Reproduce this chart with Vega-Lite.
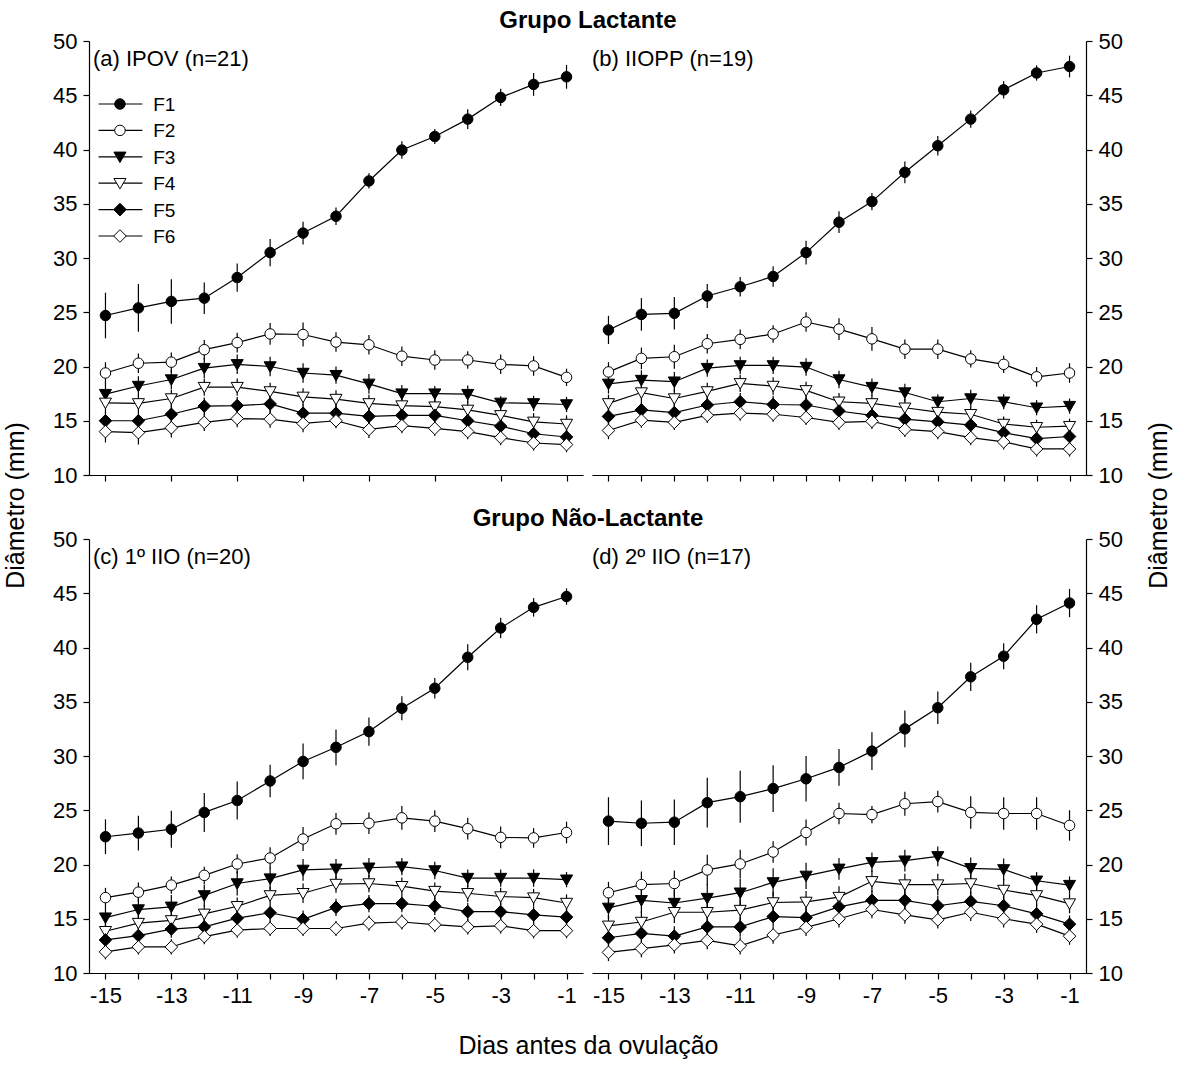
{
"$schema": "https://vega.github.io/schema/vega-lite/v6.json",
"padding": {"left": 3, "top": 9, "right": 5, "bottom": 5},
"background": "white",
"data": {"values": [
{"p":"a","s":"F1","d":-15,"m":24.7,"e":2.1},{"p":"a","s":"F1","d":-14,"m":25.4,"e":2.2},{"p":"a","s":"F1","d":-13,"m":26.0,"e":2.05},{"p":"a","s":"F1","d":-12,"m":26.3,"e":1.45},{"p":"a","s":"F1","d":-11,"m":28.2,"e":1.3},{"p":"a","s":"F1","d":-10,"m":30.5,"e":1.25},{"p":"a","s":"F1","d":-9,"m":32.3,"e":1.05},{"p":"a","s":"F1","d":-8,"m":33.85,"e":0.8},{"p":"a","s":"F1","d":-7,"m":37.1,"e":0.7},{"p":"a","s":"F1","d":-6,"m":39.95,"e":0.8},{"p":"a","s":"F1","d":-5,"m":41.2,"e":0.7},{"p":"a","s":"F1","d":-4,"m":42.8,"e":0.9},{"p":"a","s":"F1","d":-3,"m":44.8,"e":0.8},{"p":"a","s":"F1","d":-2,"m":46.0,"e":1.05},{"p":"a","s":"F1","d":-1,"m":46.7,"e":1.1},
{"p":"a","s":"F2","d":-15,"m":19.4,"e":1.0},{"p":"a","s":"F2","d":-14,"m":20.3,"e":0.9},{"p":"a","s":"F2","d":-13,"m":20.4,"e":0.9},{"p":"a","s":"F2","d":-12,"m":21.55,"e":0.9},{"p":"a","s":"F2","d":-11,"m":22.2,"e":0.9},{"p":"a","s":"F2","d":-10,"m":23.0,"e":1.0},{"p":"a","s":"F2","d":-9,"m":22.95,"e":1.1},{"p":"a","s":"F2","d":-8,"m":22.25,"e":0.9},{"p":"a","s":"F2","d":-7,"m":22.0,"e":0.9},{"p":"a","s":"F2","d":-6,"m":20.95,"e":0.9},{"p":"a","s":"F2","d":-5,"m":20.6,"e":0.9},{"p":"a","s":"F2","d":-4,"m":20.6,"e":0.8},{"p":"a","s":"F2","d":-3,"m":20.2,"e":0.9},{"p":"a","s":"F2","d":-2,"m":20.05,"e":0.9},{"p":"a","s":"F2","d":-1,"m":19.0,"e":0.8},
{"p":"a","s":"F3","d":-15,"m":17.45,"e":1.0},{"p":"a","s":"F3","d":-14,"m":18.2,"e":0.9},{"p":"a","s":"F3","d":-13,"m":18.8,"e":0.9},{"p":"a","s":"F3","d":-12,"m":19.85,"e":0.9},{"p":"a","s":"F3","d":-11,"m":20.2,"e":0.9},{"p":"a","s":"F3","d":-10,"m":20.0,"e":0.9},{"p":"a","s":"F3","d":-9,"m":19.4,"e":0.9},{"p":"a","s":"F3","d":-8,"m":19.2,"e":0.8},{"p":"a","s":"F3","d":-7,"m":18.4,"e":0.9},{"p":"a","s":"F3","d":-6,"m":17.5,"e":0.8},{"p":"a","s":"F3","d":-5,"m":17.5,"e":0.7},{"p":"a","s":"F3","d":-4,"m":17.45,"e":0.8},{"p":"a","s":"F3","d":-3,"m":16.65,"e":0.6},{"p":"a","s":"F3","d":-2,"m":16.6,"e":0.7},{"p":"a","s":"F3","d":-1,"m":16.5,"e":0.7},
{"p":"a","s":"F4","d":-15,"m":16.65,"e":0.9},{"p":"a","s":"F4","d":-14,"m":16.6,"e":0.8},{"p":"a","s":"F4","d":-13,"m":17.05,"e":0.8},{"p":"a","s":"F4","d":-12,"m":18.1,"e":0.8},{"p":"a","s":"F4","d":-11,"m":18.1,"e":0.8},{"p":"a","s":"F4","d":-10,"m":17.7,"e":0.8},{"p":"a","s":"F4","d":-9,"m":17.2,"e":0.8},{"p":"a","s":"F4","d":-8,"m":17.0,"e":0.8},{"p":"a","s":"F4","d":-7,"m":16.6,"e":0.8},{"p":"a","s":"F4","d":-6,"m":16.4,"e":0.8},{"p":"a","s":"F4","d":-5,"m":16.3,"e":0.8},{"p":"a","s":"F4","d":-4,"m":16.0,"e":0.8},{"p":"a","s":"F4","d":-3,"m":15.5,"e":0.8},{"p":"a","s":"F4","d":-2,"m":14.9,"e":0.8},{"p":"a","s":"F4","d":-1,"m":14.7,"e":0.8},
{"p":"a","s":"F5","d":-15,"m":15.0,"e":0.8},{"p":"a","s":"F5","d":-14,"m":15.0,"e":0.8},{"p":"a","s":"F5","d":-13,"m":15.6,"e":0.8},{"p":"a","s":"F5","d":-12,"m":16.35,"e":0.8},{"p":"a","s":"F5","d":-11,"m":16.4,"e":0.8},{"p":"a","s":"F5","d":-10,"m":16.55,"e":0.8},{"p":"a","s":"F5","d":-9,"m":15.7,"e":0.8},{"p":"a","s":"F5","d":-8,"m":15.7,"e":0.8},{"p":"a","s":"F5","d":-7,"m":15.4,"e":0.8},{"p":"a","s":"F5","d":-6,"m":15.5,"e":0.8},{"p":"a","s":"F5","d":-5,"m":15.5,"e":0.8},{"p":"a","s":"F5","d":-4,"m":15.0,"e":0.8},{"p":"a","s":"F5","d":-3,"m":14.5,"e":0.8},{"p":"a","s":"F5","d":-2,"m":13.8,"e":0.8},{"p":"a","s":"F5","d":-1,"m":13.5,"e":0.8},
{"p":"a","s":"F6","d":-15,"m":14.0,"e":1.0},{"p":"a","s":"F6","d":-14,"m":13.9,"e":1.1},{"p":"a","s":"F6","d":-13,"m":14.35,"e":0.9},{"p":"a","s":"F6","d":-12,"m":14.85,"e":0.8},{"p":"a","s":"F6","d":-11,"m":15.2,"e":0.8},{"p":"a","s":"F6","d":-10,"m":15.15,"e":0.8},{"p":"a","s":"F6","d":-9,"m":14.75,"e":0.8},{"p":"a","s":"F6","d":-8,"m":15.0,"e":0.7},{"p":"a","s":"F6","d":-7,"m":14.2,"e":0.8},{"p":"a","s":"F6","d":-6,"m":14.55,"e":0.7},{"p":"a","s":"F6","d":-5,"m":14.3,"e":0.7},{"p":"a","s":"F6","d":-4,"m":14.0,"e":0.7},{"p":"a","s":"F6","d":-3,"m":13.45,"e":0.7},{"p":"a","s":"F6","d":-2,"m":12.95,"e":0.7},{"p":"a","s":"F6","d":-1,"m":12.8,"e":0.7},

{"p":"b","s":"F1","d":-15,"m":23.37,"e":1.3},{"p":"b","s":"F1","d":-14,"m":24.8,"e":1.5},{"p":"b","s":"F1","d":-13,"m":24.9,"e":1.5},{"p":"b","s":"F1","d":-12,"m":26.5,"e":1.1},{"p":"b","s":"F1","d":-11,"m":27.35,"e":0.9},{"p":"b","s":"F1","d":-10,"m":28.3,"e":0.95},{"p":"b","s":"F1","d":-9,"m":30.5,"e":1.1},{"p":"b","s":"F1","d":-8,"m":33.3,"e":1.0},{"p":"b","s":"F1","d":-7,"m":35.2,"e":0.8},{"p":"b","s":"F1","d":-6,"m":37.9,"e":1.0},{"p":"b","s":"F1","d":-5,"m":40.35,"e":0.9},{"p":"b","s":"F1","d":-4,"m":42.8,"e":0.8},{"p":"b","s":"F1","d":-3,"m":45.5,"e":0.8},{"p":"b","s":"F1","d":-2,"m":47.05,"e":0.7},{"p":"b","s":"F1","d":-1,"m":47.65,"e":1.0},
{"p":"b","s":"F2","d":-15,"m":19.5,"e":0.9},{"p":"b","s":"F2","d":-14,"m":20.75,"e":1.0},{"p":"b","s":"F2","d":-13,"m":20.9,"e":1.1},{"p":"b","s":"F2","d":-12,"m":22.1,"e":0.9},{"p":"b","s":"F2","d":-11,"m":22.5,"e":0.9},{"p":"b","s":"F2","d":-10,"m":23.0,"e":0.8},{"p":"b","s":"F2","d":-9,"m":24.1,"e":0.9},{"p":"b","s":"F2","d":-8,"m":23.45,"e":1.0},{"p":"b","s":"F2","d":-7,"m":22.55,"e":1.1},{"p":"b","s":"F2","d":-6,"m":21.6,"e":0.9},{"p":"b","s":"F2","d":-5,"m":21.6,"e":0.9},{"p":"b","s":"F2","d":-4,"m":20.7,"e":0.8},{"p":"b","s":"F2","d":-3,"m":20.2,"e":0.8},{"p":"b","s":"F2","d":-2,"m":19.05,"e":0.9},{"p":"b","s":"F2","d":-1,"m":19.4,"e":0.9},
{"p":"b","s":"F3","d":-15,"m":18.4,"e":0.9},{"p":"b","s":"F3","d":-14,"m":18.75,"e":0.9},{"p":"b","s":"F3","d":-13,"m":18.6,"e":0.9},{"p":"b","s":"F3","d":-12,"m":19.85,"e":0.8},{"p":"b","s":"F3","d":-11,"m":20.1,"e":0.8},{"p":"b","s":"F3","d":-10,"m":20.1,"e":0.8},{"p":"b","s":"F3","d":-9,"m":19.95,"e":0.8},{"p":"b","s":"F3","d":-8,"m":18.8,"e":0.8},{"p":"b","s":"F3","d":-7,"m":18.1,"e":0.8},{"p":"b","s":"F3","d":-6,"m":17.6,"e":0.8},{"p":"b","s":"F3","d":-5,"m":16.75,"e":0.7},{"p":"b","s":"F3","d":-4,"m":17.05,"e":0.8},{"p":"b","s":"F3","d":-3,"m":16.75,"e":0.7},{"p":"b","s":"F3","d":-2,"m":16.2,"e":0.7},{"p":"b","s":"F3","d":-1,"m":16.35,"e":0.7},
{"p":"b","s":"F4","d":-15,"m":16.6,"e":0.8},{"p":"b","s":"F4","d":-14,"m":17.6,"e":0.8},{"p":"b","s":"F4","d":-13,"m":17.05,"e":0.8},{"p":"b","s":"F4","d":-12,"m":17.7,"e":0.8},{"p":"b","s":"F4","d":-11,"m":18.45,"e":0.8},{"p":"b","s":"F4","d":-10,"m":18.2,"e":0.8},{"p":"b","s":"F4","d":-9,"m":17.8,"e":0.8},{"p":"b","s":"F4","d":-8,"m":16.75,"e":0.8},{"p":"b","s":"F4","d":-7,"m":16.6,"e":0.8},{"p":"b","s":"F4","d":-6,"m":16.2,"e":0.8},{"p":"b","s":"F4","d":-5,"m":15.8,"e":0.7},{"p":"b","s":"F4","d":-4,"m":15.6,"e":0.7},{"p":"b","s":"F4","d":-3,"m":14.7,"e":0.7},{"p":"b","s":"F4","d":-2,"m":14.4,"e":0.7},{"p":"b","s":"F4","d":-1,"m":14.5,"e":0.7},
{"p":"b","s":"F5","d":-15,"m":15.4,"e":0.8},{"p":"b","s":"F5","d":-14,"m":16.0,"e":0.8},{"p":"b","s":"F5","d":-13,"m":15.75,"e":0.8},{"p":"b","s":"F5","d":-12,"m":16.45,"e":0.8},{"p":"b","s":"F5","d":-11,"m":16.75,"e":0.8},{"p":"b","s":"F5","d":-10,"m":16.5,"e":0.8},{"p":"b","s":"F5","d":-9,"m":16.45,"e":0.8},{"p":"b","s":"F5","d":-8,"m":15.9,"e":0.7},{"p":"b","s":"F5","d":-7,"m":15.5,"e":0.7},{"p":"b","s":"F5","d":-6,"m":15.15,"e":0.7},{"p":"b","s":"F5","d":-5,"m":14.9,"e":0.7},{"p":"b","s":"F5","d":-4,"m":14.6,"e":0.7},{"p":"b","s":"F5","d":-3,"m":13.9,"e":0.7},{"p":"b","s":"F5","d":-2,"m":13.35,"e":0.7},{"p":"b","s":"F5","d":-1,"m":13.55,"e":0.7},
{"p":"b","s":"F6","d":-15,"m":14.1,"e":0.8},{"p":"b","s":"F6","d":-14,"m":15.05,"e":0.7},{"p":"b","s":"F6","d":-13,"m":14.85,"e":0.7},{"p":"b","s":"F6","d":-12,"m":15.5,"e":0.7},{"p":"b","s":"F6","d":-11,"m":15.7,"e":0.7},{"p":"b","s":"F6","d":-10,"m":15.6,"e":0.7},{"p":"b","s":"F6","d":-9,"m":15.3,"e":0.7},{"p":"b","s":"F6","d":-8,"m":14.85,"e":0.7},{"p":"b","s":"F6","d":-7,"m":14.95,"e":0.7},{"p":"b","s":"F6","d":-6,"m":14.2,"e":0.7},{"p":"b","s":"F6","d":-5,"m":14.0,"e":0.7},{"p":"b","s":"F6","d":-4,"m":13.45,"e":0.7},{"p":"b","s":"F6","d":-3,"m":13.05,"e":0.7},{"p":"b","s":"F6","d":-2,"m":12.4,"e":0.7},{"p":"b","s":"F6","d":-1,"m":12.4,"e":0.7},

{"p":"c","s":"F1","d":-15,"m":22.56,"e":1.6},{"p":"c","s":"F1","d":-14,"m":22.9,"e":1.6},{"p":"c","s":"F1","d":-13,"m":23.25,"e":1.7},{"p":"c","s":"F1","d":-12,"m":24.8,"e":1.8},{"p":"c","s":"F1","d":-11,"m":25.9,"e":1.75},{"p":"c","s":"F1","d":-10,"m":27.7,"e":1.5},{"p":"c","s":"F1","d":-9,"m":29.5,"e":1.65},{"p":"c","s":"F1","d":-8,"m":30.8,"e":1.65},{"p":"c","s":"F1","d":-7,"m":32.25,"e":1.3},{"p":"c","s":"F1","d":-6,"m":34.4,"e":1.1},{"p":"c","s":"F1","d":-5,"m":36.25,"e":0.95},{"p":"c","s":"F1","d":-4,"m":39.1,"e":1.2},{"p":"c","s":"F1","d":-3,"m":41.8,"e":0.95},{"p":"c","s":"F1","d":-2,"m":43.7,"e":0.85},{"p":"c","s":"F1","d":-1,"m":44.7,"e":0.75},
{"p":"c","s":"F2","d":-15,"m":16.95,"e":0.9},{"p":"c","s":"F2","d":-14,"m":17.45,"e":0.9},{"p":"c","s":"F2","d":-13,"m":18.1,"e":0.8},{"p":"c","s":"F2","d":-12,"m":19.0,"e":0.8},{"p":"c","s":"F2","d":-11,"m":20.05,"e":0.9},{"p":"c","s":"F2","d":-10,"m":20.6,"e":1.0},{"p":"c","s":"F2","d":-9,"m":22.35,"e":1.1},{"p":"c","s":"F2","d":-8,"m":23.75,"e":1.0},{"p":"c","s":"F2","d":-7,"m":23.8,"e":1.0},{"p":"c","s":"F2","d":-6,"m":24.3,"e":1.1},{"p":"c","s":"F2","d":-5,"m":24.0,"e":1.0},{"p":"c","s":"F2","d":-4,"m":23.3,"e":1.0},{"p":"c","s":"F2","d":-3,"m":22.5,"e":1.0},{"p":"c","s":"F2","d":-2,"m":22.45,"e":0.9},{"p":"c","s":"F2","d":-1,"m":22.95,"e":1.0},
{"p":"c","s":"F3","d":-15,"m":15.1,"e":1.0},{"p":"c","s":"F3","d":-14,"m":15.85,"e":1.0},{"p":"c","s":"F3","d":-13,"m":16.1,"e":1.1},{"p":"c","s":"F3","d":-12,"m":17.15,"e":1.0},{"p":"c","s":"F3","d":-11,"m":18.25,"e":1.1},{"p":"c","s":"F3","d":-10,"m":18.7,"e":1.0},{"p":"c","s":"F3","d":-9,"m":19.5,"e":1.0},{"p":"c","s":"F3","d":-8,"m":19.6,"e":0.9},{"p":"c","s":"F3","d":-7,"m":19.7,"e":0.9},{"p":"c","s":"F3","d":-6,"m":19.8,"e":0.8},{"p":"c","s":"F3","d":-5,"m":19.45,"e":0.8},{"p":"c","s":"F3","d":-4,"m":18.75,"e":0.8},{"p":"c","s":"F3","d":-3,"m":18.75,"e":0.8},{"p":"c","s":"F3","d":-2,"m":18.75,"e":0.8},{"p":"c","s":"F3","d":-1,"m":18.6,"e":0.7},
{"p":"c","s":"F4","d":-15,"m":13.85,"e":0.8},{"p":"c","s":"F4","d":-14,"m":14.6,"e":0.8},{"p":"c","s":"F4","d":-13,"m":14.85,"e":0.8},{"p":"c","s":"F4","d":-12,"m":15.45,"e":0.8},{"p":"c","s":"F4","d":-11,"m":16.15,"e":0.8},{"p":"c","s":"F4","d":-10,"m":17.15,"e":0.8},{"p":"c","s":"F4","d":-9,"m":17.35,"e":0.9},{"p":"c","s":"F4","d":-8,"m":18.2,"e":0.8},{"p":"c","s":"F4","d":-7,"m":18.25,"e":0.8},{"p":"c","s":"F4","d":-6,"m":18.0,"e":0.8},{"p":"c","s":"F4","d":-5,"m":17.55,"e":0.8},{"p":"c","s":"F4","d":-4,"m":17.35,"e":0.8},{"p":"c","s":"F4","d":-3,"m":17.05,"e":0.8},{"p":"c","s":"F4","d":-2,"m":16.95,"e":0.8},{"p":"c","s":"F4","d":-1,"m":16.45,"e":0.8},
{"p":"c","s":"F5","d":-15,"m":13.05,"e":0.8},{"p":"c","s":"F5","d":-14,"m":13.45,"e":0.8},{"p":"c","s":"F5","d":-13,"m":14.05,"e":0.8},{"p":"c","s":"F5","d":-12,"m":14.25,"e":0.8},{"p":"c","s":"F5","d":-11,"m":15.05,"e":0.8},{"p":"c","s":"F5","d":-10,"m":15.55,"e":0.8},{"p":"c","s":"F5","d":-9,"m":14.95,"e":0.8},{"p":"c","s":"F5","d":-8,"m":16.05,"e":0.8},{"p":"c","s":"F5","d":-7,"m":16.4,"e":0.8},{"p":"c","s":"F5","d":-6,"m":16.4,"e":0.8},{"p":"c","s":"F5","d":-5,"m":16.15,"e":0.8},{"p":"c","s":"F5","d":-4,"m":15.65,"e":0.8},{"p":"c","s":"F5","d":-3,"m":15.65,"e":0.8},{"p":"c","s":"F5","d":-2,"m":15.35,"e":0.8},{"p":"c","s":"F5","d":-1,"m":15.15,"e":0.8},
{"p":"c","s":"F6","d":-15,"m":11.95,"e":0.7},{"p":"c","s":"F6","d":-14,"m":12.4,"e":0.7},{"p":"c","s":"F6","d":-13,"m":12.4,"e":0.7},{"p":"c","s":"F6","d":-12,"m":13.35,"e":0.7},{"p":"c","s":"F6","d":-11,"m":13.95,"e":0.7},{"p":"c","s":"F6","d":-10,"m":14.1,"e":0.7},{"p":"c","s":"F6","d":-9,"m":14.1,"e":0.7},{"p":"c","s":"F6","d":-8,"m":14.1,"e":0.7},{"p":"c","s":"F6","d":-7,"m":14.6,"e":0.7},{"p":"c","s":"F6","d":-6,"m":14.7,"e":0.7},{"p":"c","s":"F6","d":-5,"m":14.45,"e":0.7},{"p":"c","s":"F6","d":-4,"m":14.25,"e":0.7},{"p":"c","s":"F6","d":-3,"m":14.35,"e":0.7},{"p":"c","s":"F6","d":-2,"m":13.9,"e":0.7},{"p":"c","s":"F6","d":-1,"m":13.9,"e":0.7},

{"p":"d","s":"F1","d":-15,"m":24.0,"e":2.2},{"p":"d","s":"F1","d":-14,"m":23.8,"e":2.1},{"p":"d","s":"F1","d":-13,"m":23.9,"e":2.1},{"p":"d","s":"F1","d":-12,"m":25.7,"e":2.3},{"p":"d","s":"F1","d":-11,"m":26.25,"e":2.4},{"p":"d","s":"F1","d":-10,"m":27.0,"e":2.15},{"p":"d","s":"F1","d":-9,"m":27.9,"e":2.1},{"p":"d","s":"F1","d":-8,"m":28.95,"e":1.7},{"p":"d","s":"F1","d":-7,"m":30.45,"e":1.75},{"p":"d","s":"F1","d":-6,"m":32.5,"e":1.7},{"p":"d","s":"F1","d":-5,"m":34.45,"e":1.5},{"p":"d","s":"F1","d":-4,"m":37.3,"e":1.3},{"p":"d","s":"F1","d":-3,"m":39.2,"e":1.2},{"p":"d","s":"F1","d":-2,"m":42.6,"e":1.3},{"p":"d","s":"F1","d":-1,"m":44.1,"e":1.3},
{"p":"d","s":"F2","d":-15,"m":17.4,"e":1.0},{"p":"d","s":"F2","d":-14,"m":18.15,"e":1.2},{"p":"d","s":"F2","d":-13,"m":18.25,"e":1.2},{"p":"d","s":"F2","d":-12,"m":19.5,"e":1.4},{"p":"d","s":"F2","d":-11,"m":20.05,"e":1.3},{"p":"d","s":"F2","d":-10,"m":21.15,"e":1.0},{"p":"d","s":"F2","d":-9,"m":22.95,"e":1.2},{"p":"d","s":"F2","d":-8,"m":24.7,"e":1.0},{"p":"d","s":"F2","d":-7,"m":24.6,"e":0.8},{"p":"d","s":"F2","d":-6,"m":25.6,"e":1.1},{"p":"d","s":"F2","d":-5,"m":25.8,"e":1.0},{"p":"d","s":"F2","d":-4,"m":24.8,"e":1.5},{"p":"d","s":"F2","d":-3,"m":24.7,"e":1.5},{"p":"d","s":"F2","d":-2,"m":24.7,"e":1.5},{"p":"d","s":"F2","d":-1,"m":23.6,"e":1.4},
{"p":"d","s":"F3","d":-15,"m":16.0,"e":1.0},{"p":"d","s":"F3","d":-14,"m":16.7,"e":1.2},{"p":"d","s":"F3","d":-13,"m":16.45,"e":1.2},{"p":"d","s":"F3","d":-12,"m":16.9,"e":1.3},{"p":"d","s":"F3","d":-11,"m":17.4,"e":1.3},{"p":"d","s":"F3","d":-10,"m":18.35,"e":1.3},{"p":"d","s":"F3","d":-9,"m":18.95,"e":1.2},{"p":"d","s":"F3","d":-8,"m":19.6,"e":1.0},{"p":"d","s":"F3","d":-7,"m":20.2,"e":0.9},{"p":"d","s":"F3","d":-6,"m":20.35,"e":1.0},{"p":"d","s":"F3","d":-5,"m":20.75,"e":0.9},{"p":"d","s":"F3","d":-4,"m":19.65,"e":1.0},{"p":"d","s":"F3","d":-3,"m":19.55,"e":1.0},{"p":"d","s":"F3","d":-2,"m":18.5,"e":0.8},{"p":"d","s":"F3","d":-1,"m":18.1,"e":0.8},
{"p":"d","s":"F4","d":-15,"m":14.35,"e":1.0},{"p":"d","s":"F4","d":-14,"m":14.7,"e":1.0},{"p":"d","s":"F4","d":-13,"m":15.6,"e":1.0},{"p":"d","s":"F4","d":-12,"m":15.6,"e":1.0},{"p":"d","s":"F4","d":-11,"m":15.8,"e":1.0},{"p":"d","s":"F4","d":-10,"m":16.5,"e":1.0},{"p":"d","s":"F4","d":-9,"m":16.55,"e":1.0},{"p":"d","s":"F4","d":-8,"m":17.0,"e":1.0},{"p":"d","s":"F4","d":-7,"m":18.45,"e":1.0},{"p":"d","s":"F4","d":-6,"m":18.15,"e":1.0},{"p":"d","s":"F4","d":-5,"m":18.15,"e":1.0},{"p":"d","s":"F4","d":-4,"m":18.25,"e":1.0},{"p":"d","s":"F4","d":-3,"m":17.65,"e":1.0},{"p":"d","s":"F4","d":-2,"m":17.15,"e":1.0},{"p":"d","s":"F4","d":-1,"m":16.4,"e":0.9},
{"p":"d","s":"F5","d":-15,"m":13.25,"e":0.9},{"p":"d","s":"F5","d":-14,"m":13.65,"e":0.9},{"p":"d","s":"F5","d":-13,"m":13.4,"e":0.9},{"p":"d","s":"F5","d":-12,"m":14.25,"e":0.9},{"p":"d","s":"F5","d":-11,"m":14.25,"e":0.9},{"p":"d","s":"F5","d":-10,"m":15.2,"e":0.9},{"p":"d","s":"F5","d":-9,"m":15.1,"e":0.9},{"p":"d","s":"F5","d":-8,"m":16.1,"e":0.9},{"p":"d","s":"F5","d":-7,"m":16.7,"e":0.9},{"p":"d","s":"F5","d":-6,"m":16.7,"e":0.9},{"p":"d","s":"F5","d":-5,"m":16.2,"e":0.9},{"p":"d","s":"F5","d":-4,"m":16.6,"e":0.9},{"p":"d","s":"F5","d":-3,"m":16.2,"e":0.9},{"p":"d","s":"F5","d":-2,"m":15.45,"e":0.9},{"p":"d","s":"F5","d":-1,"m":14.5,"e":0.8},
{"p":"d","s":"F6","d":-15,"m":11.9,"e":0.8},{"p":"d","s":"F6","d":-14,"m":12.25,"e":0.8},{"p":"d","s":"F6","d":-13,"m":12.6,"e":0.8},{"p":"d","s":"F6","d":-12,"m":13.0,"e":0.8},{"p":"d","s":"F6","d":-11,"m":12.5,"e":0.8},{"p":"d","s":"F6","d":-10,"m":13.5,"e":0.8},{"p":"d","s":"F6","d":-9,"m":14.2,"e":0.8},{"p":"d","s":"F6","d":-8,"m":15.0,"e":0.8},{"p":"d","s":"F6","d":-7,"m":15.85,"e":0.8},{"p":"d","s":"F6","d":-6,"m":15.35,"e":0.8},{"p":"d","s":"F6","d":-5,"m":14.9,"e":0.8},{"p":"d","s":"F6","d":-4,"m":15.6,"e":0.8},{"p":"d","s":"F6","d":-3,"m":15.0,"e":0.8},{"p":"d","s":"F6","d":-2,"m":14.5,"e":0.8},{"p":"d","s":"F6","d":-1,"m":13.4,"e":0.8}
]},
"columns": 2,
"bounds": "flush",
"spacing": {"row": 64, "column": 9},
"concat": [
{"width": 494, "height": 434,
 "title": {"text": "Grupo Lactante", "anchor": "middle", "frame": "group", "dx": 252, "offset": -3},
 "resolve": {"scale": {"y": "independent"}, "axis": {"y": "independent"}},
 "layer": [
  {"encoding": {
    "x": {"field": "d", "type": "quantitative", "scale": {"domain": [-15.5, -0.5], "nice": false, "zero": false},
          "axis": {"values": [-15,-14,-13,-12,-11,-10,-9,-8,-7,-6,-5,-4,-3,-2,-1], "labels": false, "title": null}},
    "y": {"field": "m", "type": "quantitative", "scale": {"domain": [10, 50], "nice": false, "zero": false},
          "axis": {"orient": "left", "values": [10,15,20,25,30,35,40,45,50], "title": "Diâmetro (mm)", "titleAngle": 270, "titleBaseline": "middle", "titleAlign": "center", "titleX": -74, "titleY": 464}}
   },
   "layer": [
    {"transform": [{"filter": "datum.p==='a'"}], "mark": {"type": "line", "color": "black", "strokeWidth": 1.2}, "encoding": {"detail": {"field": "s"}}},
    {"transform": [{"filter": "datum.p==='a'"}], "mark": {"type": "errorbar", "color": "black", "thickness": 1.2}, "encoding": {"yError": {"field": "e"}}},
    {"transform": [{"filter": "datum.p==='a'"}], "mark": {"type": "point", "filled": true, "size": 110, "stroke": "black", "strokeWidth": 1, "opacity": 1},
     "encoding": {
      "shape": {"field": "s", "type": "nominal", "scale": {"domain": ["F1","F2","F3","F4","F5","F6"], "range": ["circle","circle","M-1.15,-0.9L1.15,-0.9L0,1.1Z","M-1.15,-0.9L1.15,-0.9L0,1.1Z","M0,-1.2L1.2,0L0,1.2L-1.2,0Z","M0,-1.2L1.2,0L0,1.2L-1.2,0Z"]}, "legend": null},
      "fill": {"field": "s", "type": "nominal", "scale": {"domain": ["F1","F2","F3","F4","F5","F6"], "range": ["black","white","black","white","black","white"]}, "legend": null}
     }},
    {"transform": [{"filter": "datum.p==='a' && datum.s==='F1' && datum.d===-15"}], "mark": {"type": "text", "text": "(a) IPOV (n=21)", "align": "left", "baseline": "middle", "fontSize": 22, "font": "Liberation Sans", "color": "black"},
     "encoding": {"x": {"datum": -15.38}, "y": {"datum": 48.35}}}
   ]},
  {"data": {"values": [{"s": "F1"}, {"s": "F2"}, {"s": "F3"}, {"s": "F4"}, {"s": "F5"}, {"s": "F6"}]},
   "encoding": {"y": {"field": "s", "type": "ordinal", "scale": {"type": "point", "domain": ["F1","F2","F3","F4","F5","F6"], "range": [63, 195], "padding": 0}, "axis": null}},
   "layer": [
    {"mark": {"type": "rule", "color": "black", "strokeWidth": 1.2}, "encoding": {"x": {"datum": -15.21}, "x2": {"datum": -13.88}}},
    {"mark": {"type": "point", "filled": true, "size": 110, "stroke": "black", "strokeWidth": 1, "opacity": 1},
     "encoding": {"x": {"datum": -14.56},
      "shape": {"field": "s", "type": "nominal", "scale": {"domain": ["F1","F2","F3","F4","F5","F6"], "range": ["circle","circle","M-1.15,-0.9L1.15,-0.9L0,1.1Z","M-1.15,-0.9L1.15,-0.9L0,1.1Z","M0,-1.2L1.2,0L0,1.2L-1.2,0Z","M0,-1.2L1.2,0L0,1.2L-1.2,0Z"]}, "legend": null},
      "fill": {"field": "s", "type": "nominal", "scale": {"domain": ["F1","F2","F3","F4","F5","F6"], "range": ["black","white","black","white","black","white"]}, "legend": null}}},
    {"mark": {"type": "text", "align": "left", "baseline": "middle", "fontSize": 19, "font": "Liberation Sans", "color": "black", "dy": 1},
     "encoding": {"x": {"datum": -13.55}, "text": {"field": "s"}}}
   ]}
 ]},
{"width": 494, "height": 434,
 "encoding": {
  "x": {"field": "d", "type": "quantitative", "scale": {"domain": [-15.5, -0.5], "nice": false, "zero": false},
        "axis": {"values": [-15,-14,-13,-12,-11,-10,-9,-8,-7,-6,-5,-4,-3,-2,-1], "labels": false, "title": null}},
  "y": {"field": "m", "type": "quantitative", "scale": {"domain": [10, 50], "nice": false, "zero": false},
        "axis": {"orient": "right", "values": [10,15,20,25,30,35,40,45,50], "title": "Diâmetro (mm)", "titleAngle": 270, "titleBaseline": "middle", "titleAlign": "center", "titleX": 72, "titleY": 464}}
 },
 "layer": [
  {"transform": [{"filter": "datum.p==='b'"}], "mark": {"type": "line", "color": "black", "strokeWidth": 1.2}, "encoding": {"detail": {"field": "s"}}},
  {"transform": [{"filter": "datum.p==='b'"}], "mark": {"type": "errorbar", "color": "black", "thickness": 1.2}, "encoding": {"yError": {"field": "e"}}},
  {"transform": [{"filter": "datum.p==='b'"}], "mark": {"type": "point", "filled": true, "size": 110, "stroke": "black", "strokeWidth": 1, "opacity": 1},
   "encoding": {
    "shape": {"field": "s", "type": "nominal", "scale": {"domain": ["F1","F2","F3","F4","F5","F6"], "range": ["circle","circle","M-1.15,-0.9L1.15,-0.9L0,1.1Z","M-1.15,-0.9L1.15,-0.9L0,1.1Z","M0,-1.2L1.2,0L0,1.2L-1.2,0Z","M0,-1.2L1.2,0L0,1.2L-1.2,0Z"]}, "legend": null},
    "fill": {"field": "s", "type": "nominal", "scale": {"domain": ["F1","F2","F3","F4","F5","F6"], "range": ["black","white","black","white","black","white"]}, "legend": null}
   }},
  {"transform": [{"filter": "datum.p==='b' && datum.s==='F1' && datum.d===-15"}], "mark": {"type": "text", "text": "(b) IIOPP (n=19)", "align": "left", "baseline": "middle", "fontSize": 22, "font": "Liberation Sans", "color": "black"},
   "encoding": {"x": {"datum": -15.5}, "y": {"datum": 48.35}}}
 ]},
{"width": 494, "height": 434,
 "title": {"text": "Grupo Não-Lactante", "anchor": "middle", "frame": "group", "dx": 252, "offset": -3},
 "encoding": {
  "x": {"field": "d", "type": "quantitative", "scale": {"domain": [-15.5, -0.5], "nice": false, "zero": false},
        "axis": {"values": [-15,-14,-13,-12,-11,-10,-9,-8,-7,-6,-5,-4,-3,-2,-1], "labelExpr": "datum.value % 2 !== 0 ? '' + datum.value : ''", "title": "Dias antes da ovulação", "titleX": 499, "titleY": 72, "titleAlign": "center", "titleBaseline": "middle"}},
  "y": {"field": "m", "type": "quantitative", "scale": {"domain": [10, 50], "nice": false, "zero": false},
        "axis": {"orient": "left", "values": [10,15,20,25,30,35,40,45,50], "title": null}}
 },
 "layer": [
  {"transform": [{"filter": "datum.p==='c'"}], "mark": {"type": "line", "color": "black", "strokeWidth": 1.2}, "encoding": {"detail": {"field": "s"}}},
  {"transform": [{"filter": "datum.p==='c'"}], "mark": {"type": "errorbar", "color": "black", "thickness": 1.2}, "encoding": {"yError": {"field": "e"}}},
  {"transform": [{"filter": "datum.p==='c'"}], "mark": {"type": "point", "filled": true, "size": 110, "stroke": "black", "strokeWidth": 1, "opacity": 1},
   "encoding": {
    "shape": {"field": "s", "type": "nominal", "scale": {"domain": ["F1","F2","F3","F4","F5","F6"], "range": ["circle","circle","M-1.15,-0.9L1.15,-0.9L0,1.1Z","M-1.15,-0.9L1.15,-0.9L0,1.1Z","M0,-1.2L1.2,0L0,1.2L-1.2,0Z","M0,-1.2L1.2,0L0,1.2L-1.2,0Z"]}, "legend": null},
    "fill": {"field": "s", "type": "nominal", "scale": {"domain": ["F1","F2","F3","F4","F5","F6"], "range": ["black","white","black","white","black","white"]}, "legend": null}
   }},
  {"transform": [{"filter": "datum.p==='c' && datum.s==='F1' && datum.d===-15"}], "mark": {"type": "text", "text": "(c) 1º IIO (n=20)", "align": "left", "baseline": "middle", "fontSize": 22, "font": "Liberation Sans", "color": "black"},
   "encoding": {"x": {"datum": -15.38}, "y": {"datum": 48.35}}}
 ]},
{"width": 494, "height": 434,
 "encoding": {
  "x": {"field": "d", "type": "quantitative", "scale": {"domain": [-15.5, -0.5], "nice": false, "zero": false},
        "axis": {"values": [-15,-14,-13,-12,-11,-10,-9,-8,-7,-6,-5,-4,-3,-2,-1], "labelExpr": "datum.value % 2 !== 0 ? '' + datum.value : ''", "title": null}},
  "y": {"field": "m", "type": "quantitative", "scale": {"domain": [10, 50], "nice": false, "zero": false},
        "axis": {"orient": "right", "values": [10,15,20,25,30,35,40,45,50], "title": null}}
 },
 "layer": [
  {"transform": [{"filter": "datum.p==='d'"}], "mark": {"type": "line", "color": "black", "strokeWidth": 1.2}, "encoding": {"detail": {"field": "s"}}},
  {"transform": [{"filter": "datum.p==='d'"}], "mark": {"type": "errorbar", "color": "black", "thickness": 1.2}, "encoding": {"yError": {"field": "e"}}},
  {"transform": [{"filter": "datum.p==='d'"}], "mark": {"type": "point", "filled": true, "size": 110, "stroke": "black", "strokeWidth": 1, "opacity": 1},
   "encoding": {
    "shape": {"field": "s", "type": "nominal", "scale": {"domain": ["F1","F2","F3","F4","F5","F6"], "range": ["circle","circle","M-1.15,-0.9L1.15,-0.9L0,1.1Z","M-1.15,-0.9L1.15,-0.9L0,1.1Z","M0,-1.2L1.2,0L0,1.2L-1.2,0Z","M0,-1.2L1.2,0L0,1.2L-1.2,0Z"]}, "legend": null},
    "fill": {"field": "s", "type": "nominal", "scale": {"domain": ["F1","F2","F3","F4","F5","F6"], "range": ["black","white","black","white","black","white"]}, "legend": null}
   }},
  {"transform": [{"filter": "datum.p==='d' && datum.s==='F1' && datum.d===-15"}], "mark": {"type": "text", "text": "(d) 2º IIO (n=17)", "align": "left", "baseline": "middle", "fontSize": 22, "font": "Liberation Sans", "color": "black"},
   "encoding": {"x": {"datum": -15.5}, "y": {"datum": 48.35}}}
 ]}
],
"config": {
 "font": "Liberation Sans",
 "view": {"stroke": null},
 "axis": {"labelFont": "Liberation Sans", "labelFontSize": 22, "labelColor": "black", "titleFont": "Liberation Sans", "titleFontSize": 25, "titleFontWeight": "normal", "titleColor": "black", "domainColor": "black", "domainWidth": 1.2, "tickColor": "black", "tickWidth": 1.2, "tickSize": 6, "grid": false, "labelPadding": 6},
 "title": {"font": "Liberation Sans", "fontSize": 24, "fontWeight": "bold", "color": "black"}
}
}
